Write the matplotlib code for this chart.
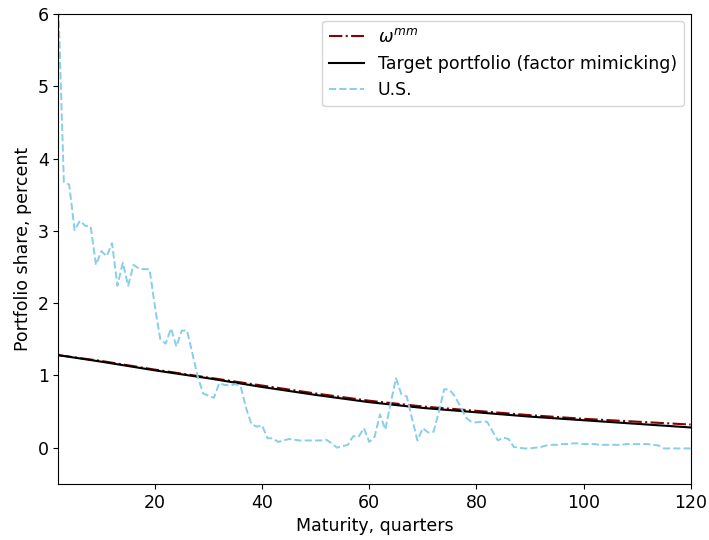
import matplotlib
matplotlib.use("Agg")
import matplotlib.pyplot as plt
import numpy as np

plt.rcParams['font.size'] = 12.5

### DATA
# U.S. portfolio shares by maturity (quarters 2..120), percent
us_quarters = np.arange(2, 121)
us_share = [
    6.05, 3.68, 3.64, 3.01, 3.14, 3.07, 3.06, 2.53, 2.72, 2.65,   # 2-11
    2.83, 2.24, 2.56, 2.24, 2.53, 2.48, 2.47, 2.47, 1.95, 1.50,   # 12-21
    1.44, 1.65, 1.40, 1.62, 1.62, 1.30, 0.98, 0.75, 0.72, 0.69,   # 22-31
    0.89, 0.87, 0.86, 0.88, 0.85, 0.55, 0.33, 0.29, 0.31, 0.13,   # 32-41
    0.13, 0.08, 0.10, 0.12, 0.11, 0.10, 0.10, 0.10, 0.10, 0.10,   # 42-51
    0.11, 0.06, 0.00, 0.02, 0.04, 0.16, 0.15, 0.27, 0.08, 0.15,   # 52-61
    0.46, 0.25, 0.62, 0.96, 0.74, 0.71, 0.40, 0.10, 0.27, 0.21,   # 62-71
    0.22, 0.50, 0.81, 0.80, 0.71, 0.57, 0.42, 0.36, 0.35, 0.36,   # 72-81
    0.36, 0.23, 0.10, 0.14, 0.12, 0.01, 0.00, -0.01, -0.01, 0.00, # 82-91
    0.01, 0.03, 0.04, 0.04, 0.05, 0.05, 0.06, 0.06, 0.05, 0.05,   # 92-101
    0.05, 0.04, 0.04, 0.04, 0.04, 0.04, 0.05, 0.05, 0.05, 0.05,   # 102-111
    0.05, 0.04, 0.03, -0.01, -0.01, -0.01, -0.01, -0.01, -0.01,   # 112-120
]

# model portfolio and factor-mimicking target portfolio
model_quarters = [2, 10, 20, 30, 40, 50, 60, 70, 80, 90, 100, 110, 120]
omega_mm = [1.28, 1.20, 1.08, 0.97, 0.86, 0.75, 0.65, 0.57, 0.51, 0.45, 0.40, 0.36, 0.32]
target = [1.28, 1.19, 1.07, 0.96, 0.84, 0.73, 0.63, 0.55, 0.49, 0.43, 0.38, 0.33, 0.28]

### PLOT
fig = plt.figure(figsize=(7.09, 5.40), dpi=100)
ax = fig.add_axes([0.0825, 0.104, 0.8917, 0.870])

ax.plot(model_quarters, omega_mm, color='darkred', linestyle='-.', lw=1.5,
        label=r'$\omega^{mm}$')
ax.plot(model_quarters, target, color='black', lw=1.5,
        label='Target portfolio (factor mimicking)')
ax.plot(us_quarters, us_share, color='skyblue', linestyle='--', lw=1.4,
        label='U.S.')

ax.set_xlim(2, 120)
ax.set_ylim(-0.5, 6)
ax.set_xticks([20, 40, 60, 80, 100, 120])
ax.set_yticks([0, 1, 2, 3, 4, 5, 6])
ax.set_xlabel('Maturity, quarters')
ax.set_ylabel('Portfolio share, percent')
ax.legend(loc='upper right', handlelength=2.0, borderaxespad=0.4)

fig.savefig('out.png', dpi=100)
